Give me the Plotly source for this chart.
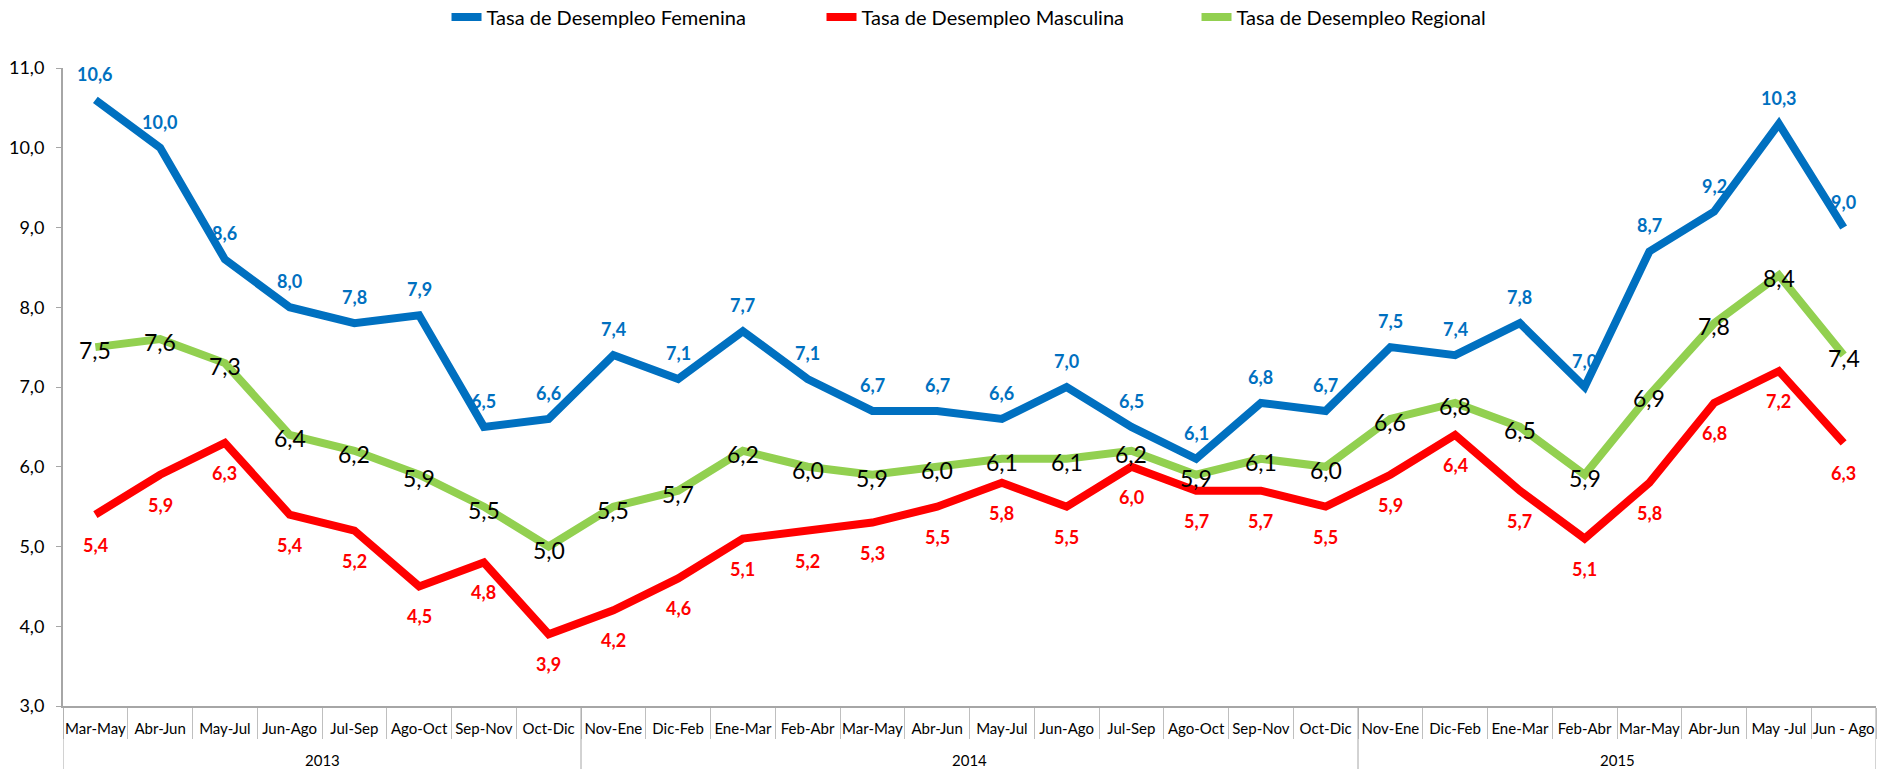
import plotly.graph_objects as go

years = ["2013"] * 8 + ["2014"] * 12 + ["2015"] * 8
months = ["Mar-May", "Abr-Jun", "May-Jul", "Jun-Ago", "Jul-Sep", "Ago-Oct", "Sep-Nov", "Oct-Dic",
          "Nov-Ene", "Dic-Feb", "Ene-Mar", "Feb-Abr", "Mar-May", "Abr-Jun", "May-Jul", "Jun-Ago",
          "Jul-Sep", "Ago-Oct", "Sep-Nov", "Oct-Dic",
          "Nov-Ene", "Dic-Feb", "Ene-Mar", "Feb-Abr", "Mar-May", "Abr-Jun", "May -Jul", "Jun - Ago"]

femenina = [10.6, 10.0, 8.6, 8.0, 7.8, 7.9, 6.5, 6.6,
            7.4, 7.1, 7.7, 7.1, 6.7, 6.7, 6.6, 7.0, 6.5, 6.1, 6.8, 6.7,
            7.5, 7.4, 7.8, 7.0, 8.7, 9.2, 10.3, 9.0]
masculina = [5.4, 5.9, 6.3, 5.4, 5.2, 4.5, 4.8, 3.9,
             4.2, 4.6, 5.1, 5.2, 5.3, 5.5, 5.8, 5.5, 6.0, 5.7, 5.7, 5.5,
             5.9, 6.4, 5.7, 5.1, 5.8, 6.8, 7.2, 6.3]
regional = [7.5, 7.6, 7.3, 6.4, 6.2, 5.9, 5.5, 5.0,
            5.5, 5.7, 6.2, 6.0, 5.9, 6.0, 6.1, 6.1, 6.2, 5.9, 6.1, 6.0,
            6.6, 6.8, 6.5, 5.9, 6.9, 7.8, 8.4, 7.4]

names = ["Tasa de Desempleo Femenina", "Tasa de Desempleo Masculina", "Tasa de Desempleo Regional"]
colors = ["#0070C0", "#FF0000", "#92D050"]
label_colors = ["#0070C0", "#FF0000", "#000000"]

FONT = "Lato"
AXIS_GREY = "#A6A6A6"
W, H = 1886, 769
M = dict(l=63, r=10, t=68, b=63)

def fmt(v):
    return f"{v:.1f}".replace(".", ",")

idx = list(range(len(months)))

fig = go.Figure()
series = [femenina, masculina, regional]
for vals, name, col in zip(series, names, colors):
    fig.add_trace(go.Scatter(
        x=idx, y=vals, name=name, mode="lines",
        line=dict(color=col, width=8), hoverinfo="skip",
    ))

annotations = []
specs = [
    (femenina, label_colors[0], 18, True, 26),
    (masculina, label_colors[1], 18, True, -30),
    (regional, label_colors[2], 23, False, -3),
]
for vals, col, size, bold, shift in specs:
    for i, v in enumerate(vals):
        t = fmt(v)
        if bold:
            t = f"<b>{t}</b>"
        annotations.append(dict(
            x=i, y=v, xref="x", yref="y", text=t, showarrow=False,
            yshift=shift, font=dict(family=FONT, size=size, color=col),
        ))

# year groups: boundaries and centres derived from the years list
groups = []
start = 0
for i in range(1, len(years) + 1):
    if i == len(years) or years[i] != years[start]:
        groups.append((years[start], start, i - 1))
        start = i

shapes = []
plot_h = H - M["t"] - M["b"]
bottom_frac = -M["b"] / plot_h
for name, s, e in groups:
    shapes.append(dict(type="line", xref="x", yref="paper", x0=s - 0.5, x1=s - 0.5,
                       y0=0, y1=bottom_frac, line=dict(color=AXIS_GREY, width=1)))
    annotations.append(dict(x=(s + e) / 2, y=0, xref="x", yref="paper", text=name,
                            showarrow=False, yshift=-54, yanchor="middle",
                            font=dict(family=FONT, size=15, color="#000000")))
shapes.append(dict(type="line", xref="x", yref="paper", x0=groups[-1][2] + 0.5,
                   x1=groups[-1][2] + 0.5, y0=0, y1=bottom_frac,
                   line=dict(color=AXIS_GREY, width=1)))

fig.update_layout(
    width=W, height=H,
    margin=M,
    paper_bgcolor="white", plot_bgcolor="white",
    font=dict(family=FONT, size=15, color="#000000"),
    separators=",.",
    showlegend=True,
    legend=dict(orientation="h", x=0.535, xanchor="center", xref="container",
                y=1 - 17 / H, yanchor="middle", yref="container",
                font=dict(family=FONT, size=20, color="#000000"),
                entrywidth=330, entrywidthmode="pixels", traceorder="normal"),
    annotations=annotations,
    shapes=shapes,
    xaxis=dict(
        range=[-0.5, len(months) - 0.5], tickmode="array", tickvals=idx, ticktext=months,
        tickangle=0, ticks="", ticklabelstandoff=8,
        showline=True, linecolor=AXIS_GREY, linewidth=2,
        minor=dict(tickmode="array", tickvals=[i - 0.5 for i in range(len(months) + 1)],
                   ticks="outside", ticklen=31, tickcolor="#BFBFBF", tickwidth=1, showgrid=False),
        tickfont=dict(family=FONT, size=15, color="#000000"),
        showgrid=False, zeroline=False, automargin=False, fixedrange=True,
    ),
    yaxis=dict(
        range=[3, 11], dtick=1, tickformat=".1f", showline=True, linecolor=AXIS_GREY,
        linewidth=2, ticks="outside", ticklen=5, tickcolor=AXIS_GREY, showgrid=False,
        zeroline=False, tickfont=dict(family=FONT, size=18, color="#000000"),
        ticklabelstandoff=8, automargin=False, fixedrange=True,
    ),
)

fig.write_html("out.html", config={"displayModeBar": False},
               post_script="document.body.style.margin='0';")
